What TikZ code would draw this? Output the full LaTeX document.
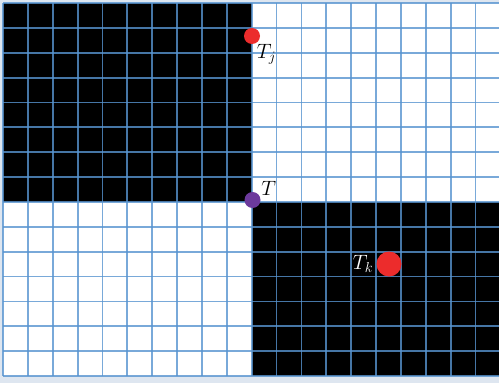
\documentclass[tikz,border=0pt]{standalone}
\usepackage{amsmath}
\usepackage{tikz}
\usetikzlibrary{positioning}

\definecolor{gridblue}{RGB}{88,148,208}
\definecolor{edgegray}{RGB}{222,230,240}
\definecolor{dotred}{RGB}{236,44,44}
\definecolor{dotpurple}{RGB}{108,58,156}

\begin{document}
\begin{tikzpicture}[
    x=1pt, y=-1pt,
    font=\fontsize{22}{24}\selectfont,
    cell/.style={gridblue, opacity=0.8, line width=1.8pt},
    dot/.style={circle, draw=none, inner sep=0pt, minimum size=#1},
    lbl/.style={inner sep=0pt},
  ]
  \useasboundingbox (0,0) rectangle (499,383);
  \fill[edgegray] (0,0) rectangle (499,383);
  \fill[white] (3,3) rectangle (499,376);
  \fill[black] (3,3) rectangle (251.7,202);
  \fill[black] (251.7,202) rectangle (499,376);

  % grid, 24.87px cells
  \foreach \i in {0,...,19}
    \draw[cell] ({3+24.87*\i},3) -- ({3+24.87*\i},376);
  \foreach \j in {0,...,15}
    \draw[cell] (3,{3+24.87*\j}) -- (499,{3+24.87*\j});

  \node[dot=16pt, fill=dotred] (Tj) at (252,36) {};
  \node[dot=16pt, fill=dotpurple] (T) at (252.5,200) {};
  \node[dot=25pt, fill=dotred] (Tk) at (389,264) {};

  \node[lbl, below right=2pt and -1pt of Tj] (Tjlbl) {$T_j$};
  \node[lbl, above right=-1pt and 3pt of T] (Tlbl) {$T$};
  \node[lbl, left=3pt of Tk, text=white] (Tklbl) {$T_k$};
\end{tikzpicture}
\end{document}
